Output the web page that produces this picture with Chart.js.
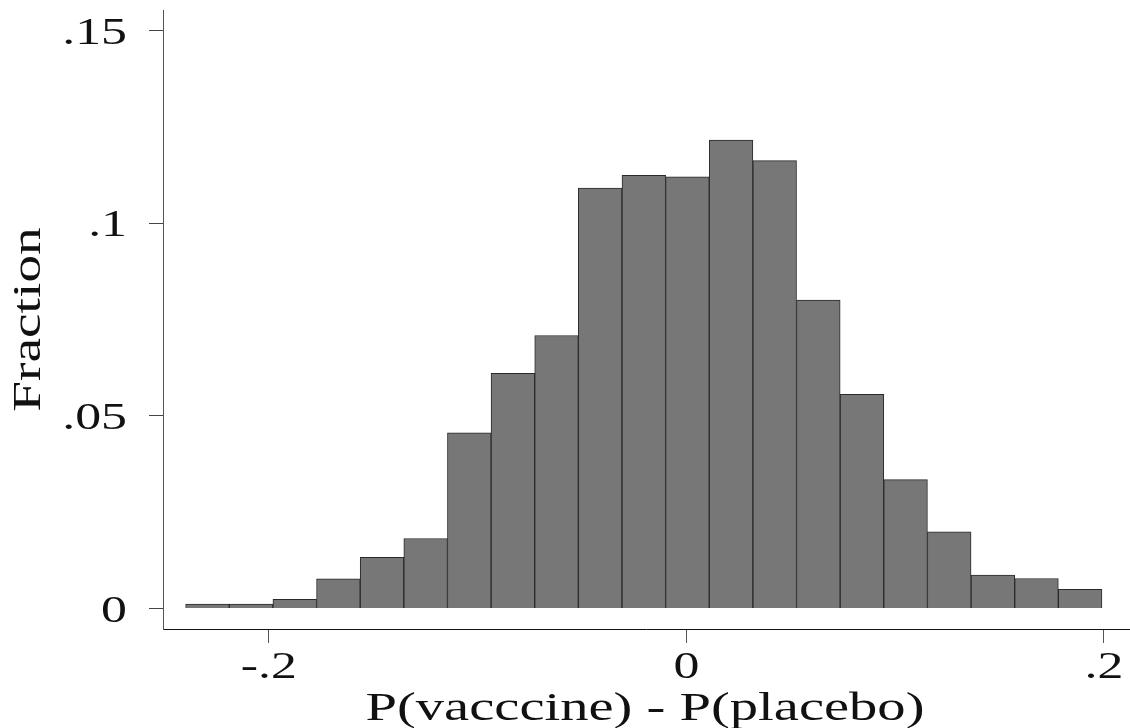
<!DOCTYPE html>
<html>
<head>
<meta charset="utf-8">
<title>P(vacccine) - P(placebo)</title>
<script src="https://cdn.jsdelivr.net/npm/chart.js@4.4.1/dist/chart.umd.min.js"></script>
<style>
  html, body { margin: 0; padding: 0; background: #ffffff; }
  #wrap { width: 1130px; height: 728px; }
</style>
</head>
<body>
<div id="wrap"><canvas id="myChart" width="1130" height="728"></canvas></div>
<script>
// bin centres of the histogram
const binCenters = [-0.2294, -0.2085, -0.1876, -0.1667, -0.1458, -0.1249, -0.1040,
                    -0.0831, -0.0622, -0.0413, -0.0204, 0.0005, 0.0214, 0.0423,
                    0.0632, 0.0841, 0.1050, 0.1259, 0.1468, 0.1677, 0.1886];
// fraction in each bin
const fractions = [0.0012, 0.0012, 0.0024, 0.0077, 0.0133, 0.0182, 0.0456,
                   0.0611, 0.0709, 0.1092, 0.1125, 0.1121, 0.1216, 0.1163,
                   0.0801, 0.0556, 0.0335, 0.0199, 0.0087, 0.0078, 0.0050];

// tick values and labels
const xTicks = [-0.2, 0, 0.2];
const xTickLabels = ['-.2', '0', '.2'];
const yTicks = [0, 0.05, 0.1, 0.15];
const yTickLabels = ['0', '.05', '.1', '.15'];

const xTitle = 'P(vacccine) - P(placebo)';
const yTitle = 'Fraction';

// the original font is a wide serif, so we stretch Liberation Serif sideways
const FONT = '"Liberation Serif", "Times New Roman", serif';
const STRETCH = 1.4;

function drawStretched(ctx, text, x, y, size, stretch, align, angle) {
    ctx.save();
    ctx.translate(x, y);
    if (angle) ctx.rotate(angle);
    ctx.scale(stretch, 1);
    ctx.font = size + 'px ' + FONT;
    ctx.fillStyle = '#111111';
    ctx.textAlign = align;
    ctx.textBaseline = 'alphabetic';
    ctx.fillText(text, 0, 0);
    ctx.restore();
}

// plugin qui dessine les étiquettes et les titres des axes
const labelsPlugin = {
    id: 'stataLabels',
    afterDraw(chart) {
        const ctx = chart.ctx;
        const xs = chart.scales.x;
        const ys = chart.scales.y;
        const area = chart.chartArea;

        // y tick labels, right aligned
        yTicks.forEach((v, i) => {
            const py = ys.getPixelForValue(v);
            drawStretched(ctx, yTickLabels[i], area.left - 36, py + 13, 37, STRETCH, 'right');
        });
        // x tick labels, centred under the tick
        xTicks.forEach((v, i) => {
            const px = xs.getPixelForValue(v);
            drawStretched(ctx, xTickLabels[i], px, area.bottom + 49, 37, STRETCH, 'center');
        });
        // axis titles
        const cx = (area.left + area.right) / 2;
        const cy = (area.top + area.bottom) / 2;
        drawStretched(ctx, xTitle, cx - 1, area.bottom + 91, 39, 1.45, 'center');
        drawStretched(ctx, yTitle, 40, cy, 41, 1.35, 'center', -Math.PI / 2);
    }
};

const ctx = document.getElementById('myChart').getContext('2d');
const myChart = new Chart(ctx, {
    type: 'bar',
    data: {
        datasets: [{
            label: 'Fraction',
            data: binCenters.map((c, i) => ({ x: c, y: fractions[i] })),
            backgroundColor: '#777777',
            borderColor: '#2a2a2a',
            borderWidth: 1,
            barPercentage: 1,
            categoryPercentage: 1
        }]
    },
    options: {
        responsive: false,
        animation: false,
        devicePixelRatio: 1,
        layout: {
            padding: { left: 149, top: 10, right: 1, bottom: 85 }
        },
        plugins: {
            legend: { display: false },
            tooltip: { enabled: false }
        },
        scales: {
            x: {
                type: 'linear',
                min: -0.2507,
                max: 0.212,
                offset: false,
                afterBuildTicks: s => { s.ticks = xTicks.map(v => ({ value: v })); },
                ticks: { display: false },
                grid: {
                    offset: false,
                    drawOnChartArea: false,
                    drawTicks: true,
                    tickLength: 14,
                    color: '#555555',
                    tickWidth: 1
                },
                border: { display: true, color: '#111111', width: 1 }
            },
            y: {
                type: 'linear',
                min: -0.0053,
                max: 0.1554,
                afterBuildTicks: s => { s.ticks = yTicks.map(v => ({ value: v })); },
                ticks: { display: false },
                grid: {
                    drawOnChartArea: false,
                    drawTicks: true,
                    tickLength: 14,
                    color: '#444444',
                    tickWidth: 1
                },
                border: { display: true, color: '#555555', width: 1 }
            }
        }
    },
    plugins: [labelsPlugin]
});
</script>
</body>
</html>
